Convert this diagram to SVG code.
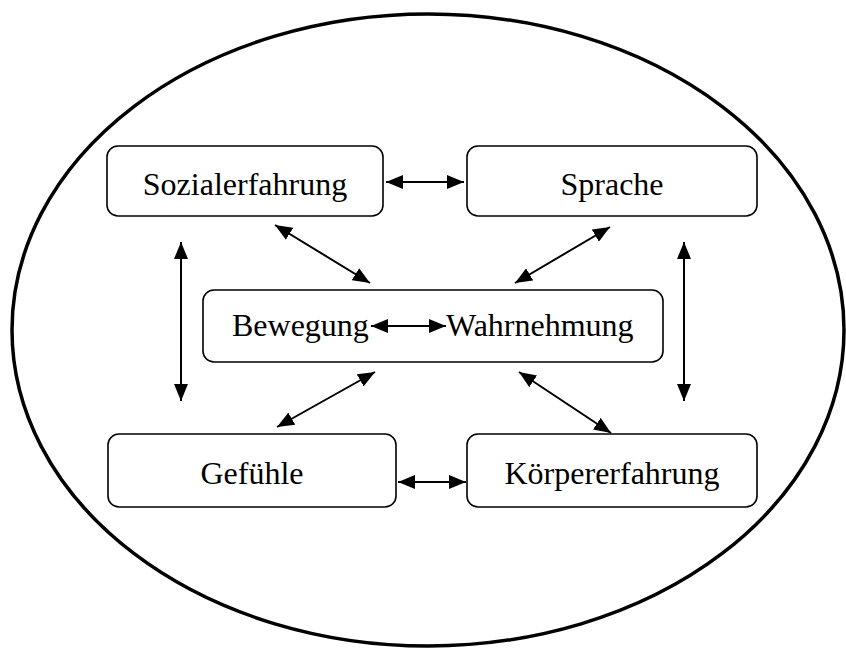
<svg xmlns="http://www.w3.org/2000/svg" width="846" height="649" viewBox="0 0 846 649">
<style>
.box{fill:#fff;stroke:#000;stroke-width:1.6}
.lbl{font-family:"Liberation Serif","Times New Roman",serif;font-size:32px;fill:#000}
.con{stroke:#000;stroke-width:2;fill:none;marker-start:url(#ah);marker-end:url(#ah)}
</style>
<defs>
<marker id="ah" markerUnits="userSpaceOnUse" markerWidth="17" markerHeight="14" refX="17" refY="7" orient="auto-start-reverse" viewBox="0 0 17 14">
<path d="M0,0 L17,7 L0,14 Z" fill="#000"/>
</marker>
</defs>
<rect width="846" height="649" fill="#fff"/>
<ellipse cx="428" cy="330" rx="416" ry="316" fill="none" stroke="#000" stroke-width="3.5"/>
<g id="sozialerfahrung"><rect class="box" x="107" y="146" width="276" height="70" rx="11"/><text class="lbl" x="245" y="195" text-anchor="middle">Sozialerfahrung</text></g>
<g id="sprache"><rect class="box" x="467" y="146" width="290" height="70" rx="11"/><text class="lbl" x="612" y="195" text-anchor="middle">Sprache</text></g>
<g id="bewegung-wahrnehmung"><rect class="box" x="203" y="290" width="460" height="72" rx="11"/><text class="lbl" x="232" y="336">Bewegung</text><text class="lbl" x="446" y="336">Wahrnehmung</text></g>
<g id="gefuehle"><rect class="box" x="108" y="434" width="288" height="73" rx="11"/><text class="lbl" x="252" y="484" text-anchor="middle">Gefühle</text></g>
<g id="koerpererfahrung"><rect class="box" x="467" y="434" width="290" height="73" rx="11"/><text class="lbl" x="612" y="484" text-anchor="middle">Körpererfahrung</text></g>
<g id="connectors">
<line class="con" x1="386" y1="182" x2="464" y2="182"/>
<line class="con" x1="371" y1="326" x2="446" y2="326"/>
<line class="con" x1="398" y1="482" x2="466" y2="482"/>
<line class="con" x1="181" y1="242" x2="181" y2="401"/>
<line class="con" x1="684" y1="242" x2="684" y2="401"/>
<line class="con" x1="275" y1="225" x2="370" y2="283"/>
<line class="con" x1="610" y1="227" x2="515" y2="283"/>
<line class="con" x1="375" y1="372" x2="277" y2="427"/>
<line class="con" x1="519" y1="372" x2="611" y2="433"/>
</g>
</svg>
